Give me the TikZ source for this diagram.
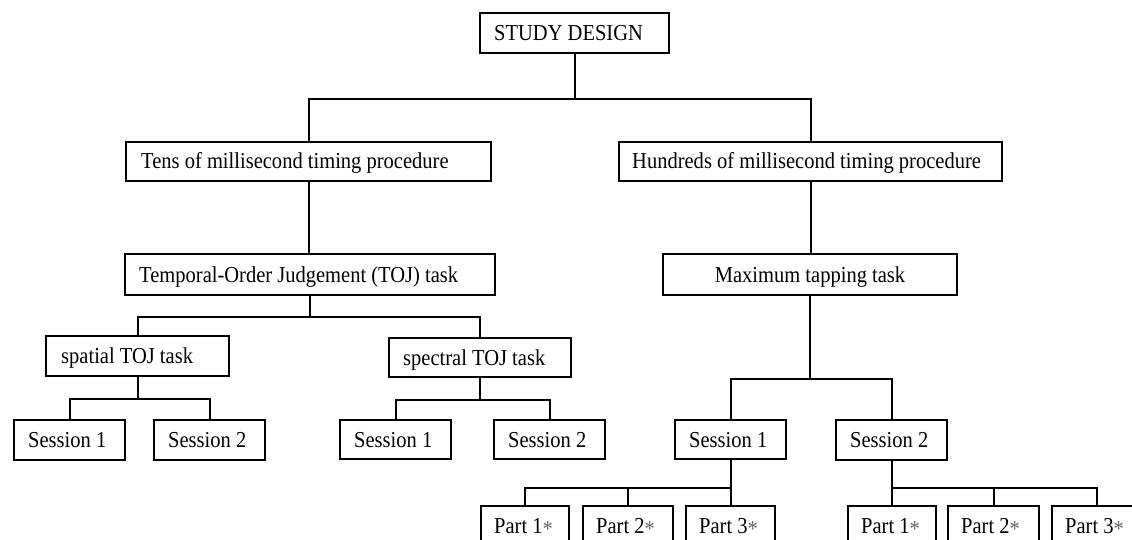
\documentclass[tikz,border=0pt]{standalone}
\usepackage{fontspec}
\setmainfont{Liberation Serif}[FakeStretch=0.9]
\newcommand{\partstar}{\textcolor{black!60}{\raisebox{-0.12em}{*}}}
\begin{document}
\begin{tikzpicture}[x=1pt,y=-1pt,
  box/.style={draw, line width=2pt, anchor=north west, inner sep=0pt},
  lbl/.style={anchor=west, inner sep=0pt, font=\fontsize{22.8}{26}\selectfont, text height=18pt, text depth=3pt},
  conn/.style={draw, line width=2pt}]
\useasboundingbox (0,0) rectangle (1132,540);
\clip (0,0) rectangle (1132,540);
\fill[white] (0,0) rectangle (1132,540);
% boxes
\node[box, minimum width=189pt, minimum height=40pt] (study) at (479,12) {};
\node[box, minimum width=365pt, minimum height=39pt] (tens) at (125,141) {};
\node[box, minimum width=383pt, minimum height=39pt] (hund) at (618,141) {};
\node[box, minimum width=370pt, minimum height=41pt] (toj) at (124,253) {};
\node[box, minimum width=294pt, minimum height=41pt] (tap) at (662,253) {};
\node[box, minimum width=183pt, minimum height=40pt] (spat) at (45,335) {};
\node[box, minimum width=182pt, minimum height=39pt] (spec) at (388,337) {};
\node[box, minimum width=111pt, minimum height=40pt] (s1) at (13,419) {};
\node[box, minimum width=111pt, minimum height=40pt] (s2) at (153,419) {};
\node[box, minimum width=111pt, minimum height=39pt] (p1) at (339,419) {};
\node[box, minimum width=111pt, minimum height=39pt] (p2) at (493,419) {};
\node[box, minimum width=111pt, minimum height=39pt] (m1) at (674,419) {};
\node[box, minimum width=111pt, minimum height=40pt] (m2) at (835,419) {};
\node[box, minimum width=88pt, minimum height=40pt] (a1) at (480,505) {};
\node[box, minimum width=90pt, minimum height=40pt] (a2) at (582,505) {};
\node[box, minimum width=89pt, minimum height=40pt] (a3) at (685,505) {};
\node[box, minimum width=88pt, minimum height=40pt] (b1) at (847,505) {};
\node[box, minimum width=91pt, minimum height=40pt] (b2) at (947,505) {};
\node[box, minimum width=90pt, minimum height=40pt] (b3) at (1051,505) {};
% labels
\node[lbl] (studyt) at ([xshift=15pt]study.west) {STUDY DESIGN};
\node[lbl] (tenst) at ([xshift=16pt]tens.west) {Tens of millisecond timing procedure};
\node[lbl] (hundt) at ([xshift=14pt]hund.west) {Hundreds of millisecond timing procedure};
\node[lbl] (tojt) at ([xshift=15pt]toj.west) {Temporal-Order Judgement (TOJ) task};
\node[lbl, anchor=center] (tapt) at (tap.center) {Maximum tapping task};
\node[lbl] (spatt) at ([xshift=16pt]spat.west) {spatial TOJ task};
\node[lbl] (spect) at ([xshift=15pt]spec.west) {spectral TOJ task};
\node[lbl] (s1t) at ([xshift=15pt]s1.west) {Session 1};
\node[lbl] (s2t) at ([xshift=15pt]s2.west) {Session 2};
\node[lbl] (p1t) at ([xshift=15pt]p1.west) {Session 1};
\node[lbl] (p2t) at ([xshift=15pt]p2.west) {Session 2};
\node[lbl] (m1t) at ([xshift=15pt]m1.west) {Session 1};
\node[lbl] (m2t) at ([xshift=15pt]m2.west) {Session 2};
\node[lbl] (a1t) at ([xshift=14pt]a1.west) {Part 1\partstar};
\node[lbl] (a2t) at ([xshift=14pt]a2.west) {Part 2\partstar};
\node[lbl] (a3t) at ([xshift=14pt]a3.west) {Part 3\partstar};
\node[lbl] (b1t) at ([xshift=14pt]b1.west) {Part 1\partstar};
\node[lbl] (b2t) at ([xshift=14pt]b2.west) {Part 2\partstar};
\node[lbl] (b3t) at ([xshift=14pt]b3.west) {Part 3\partstar};
% connectors
\draw[conn] (study.south) -- ++(0,45) coordinate (j1);
\draw[conn] (tens.north) |- (j1) -| (hund.north);
\draw[conn] (tens.south) -- (tens.south |- toj.north);
\draw[conn] (hund.south) -- (hund.south |- tap.north);
\draw[conn] (toj.south) -- ++(0,21) coordinate (j2);
\draw[conn] (spat.north) |- (j2) -| (spec.north);
\draw[conn] (spat.south) -- ++(0,22) coordinate (j3);
\draw[conn] (s1.north) |- (j3) -| (s2.north);
\draw[conn] (spec.south) -- ++(0,22) coordinate (j4);
\draw[conn] (p1.north) |- (j4) -| (p2.north);
\draw[conn] (tap.south) -- ++(0,83) coordinate (j5);
\draw[conn] (m1.north) |- (j5) -| (m2.north);
\draw[conn] (m1.south) -- ++(0,28) coordinate (j6);
\draw[conn] (a1.north) |- (j6) -- (a3.north);
\draw[conn] (a2.north) -- (a2.north |- j6);
\draw[conn] (m2.south) -- ++(0,27) coordinate (j7);
\draw[conn] (b1.north) |- (b3.north |- j7) -- (b3.north);
\draw[conn] (b2.north) -- (b2.north |- j7);
\end{tikzpicture}
\end{document}
